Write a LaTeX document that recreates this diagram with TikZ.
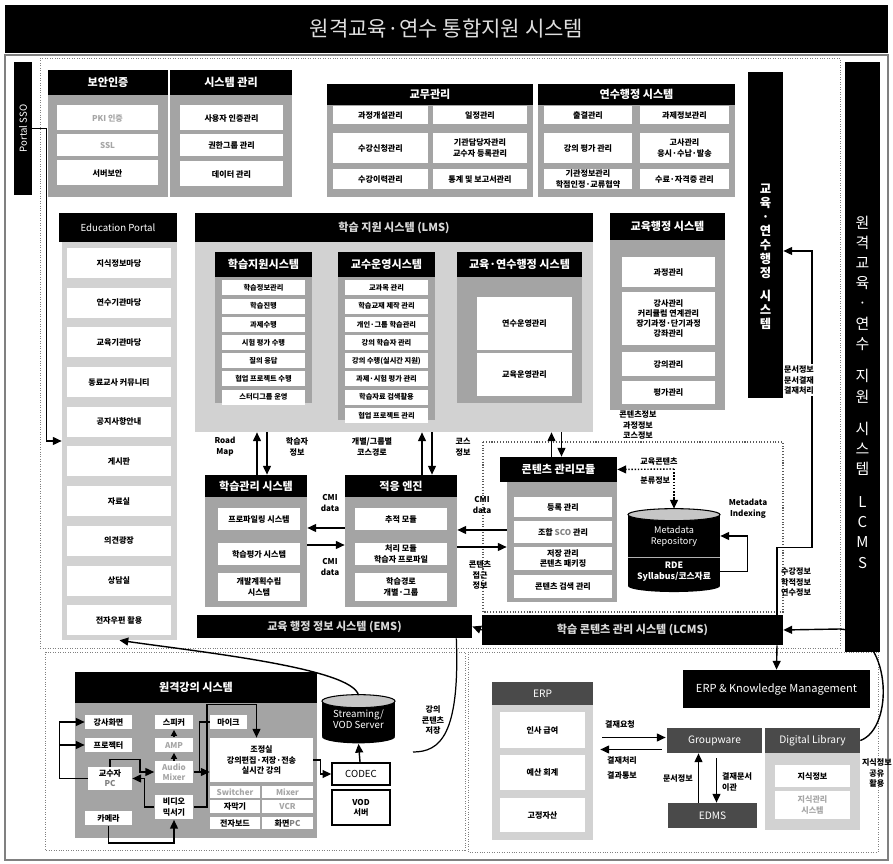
\documentclass[tikz,border=0pt]{standalone}
\usepackage{fontspec}
\usepackage{graphicx}
\setmainfont{Noto Sans CJK KR}
\usepackage{tikz}
\usetikzlibrary{positioning,arrows.meta,calc}
\definecolor{hatch}{HTML}{A4A4A4}
\definecolor{lighthatch}{HTML}{D2D2D2}
\definecolor{darkpanel}{HTML}{4A4A4A}

\begin{document}
\begin{tikzpicture}[x=0.02cm, y=-0.02cm,
  hdr/.style={fill=black, text=white, inner sep=0pt, align=center,
              font=\bfseries\fontsize{6.3}{7.5}\selectfont},
  dhdr/.style={hdr, fill=darkpanel, font=\fontsize{5.8}{6.8}\selectfont},
  body/.style={fill=hatch, inner sep=0pt},
  lbody/.style={fill=lighthatch, inner sep=0pt},
  item/.style={fill=white, inner sep=0pt, align=center,
               font=\bfseries\fontsize{4.6}{5.8}\selectfont},
  sitem/.style={item, minimum width=1.66cm, minimum height=0.3cm,
                font=\bfseries\fontsize{4.1}{5}\selectfont},
  pitem/.style={item, minimum width=2.1cm, minimum height=0.6cm},
  gitem/.style={item, text=gray!70},
  lbl/.style={inner sep=0.5pt, align=center,
              font=\bfseries\fontsize{4.6}{6.2}\selectfont},
  bar/.style={fill=black, text=white, inner sep=0pt, align=center},
  db/.style={fill=black, text=white, inner sep=0pt, align=center,
             font=\fontsize{5.2}{6.2}\selectfont},
  arr/.style={-{Triangle[length=5pt,width=4.5pt]}, line width=0.8pt},
  sarr/.style={-{Triangle[length=3.5pt,width=3.5pt]}, line width=0.7pt}
]
\useasboundingbox (0,0) rectangle (893,864);
\fill[white] (0,0) rectangle (893,864);
\node[bar, minimum width=17.66cm, minimum height=0.96cm, text=gray!25,
      font=\fontsize{12}{14}\selectfont] (title) at (446.5,29) {원격교육·연수 통합지원 시스템};
\draw[gray, line width=0.6pt] (5,55) rectangle (888,860);
\draw[densely dotted, gray] (40,58) rectangle (840,648);
\draw[densely dotted, gray] (45,652) rectangle (465,850);
\draw[densely dotted, gray] (468,652) rectangle (878,852);

\node[bar, minimum width=0.36cm, minimum height=2.66cm,
      font=\fontsize{5.5}{6}\selectfont] (sso) at (23,128.5) {\rotatebox{90}{Portal SSO}};

\node[hdr, minimum width=2.4cm, minimum height=0.5cm] (sechd) at (108,82.5) {보안인증};
\node[body, minimum width=2.4cm, minimum height=2.04cm] (secb) at (108,146) {};
\node[gitem, minimum width=2.02cm, minimum height=0.5cm] (sec1) at (107.5,118) {PKI 인증};
\node[gitem, minimum width=2.02cm, minimum height=0.44cm] (sec2) at (107.5,145) {SSL};
\node[item, minimum width=2.02cm, minimum height=0.5cm] (sec3) at (107.5,173) {서버보안};

\node[hdr, minimum width=2.44cm, minimum height=0.5cm] (syshd) at (231,82.5) {시스템 관리};
\node[body, minimum width=2.44cm, minimum height=2.04cm] (sysb) at (231,146) {};
\node[item, minimum width=2.06cm, minimum height=0.5cm] (sys1) at (231.5,118) {사용자 인증관리};
\node[item, minimum width=2.06cm, minimum height=0.44cm] (sys2) at (231.5,145) {권한그룹 관리};
\node[item, minimum width=2.06cm, minimum height=0.5cm] (sys3) at (231.5,174) {데이터 관리};

\node[hdr, minimum width=4.12cm, minimum height=0.42cm] (gmhd) at (430,94.5) {교무관리};
\node[body, minimum width=4.12cm, minimum height=1.84cm] (gmb) at (430,151) {};
\node[item, minimum width=1.9cm, minimum height=0.36cm] (gm1) at (380.5,115) {과정개설관리};
\node[item, minimum width=1.9cm, minimum height=0.6cm] (gm2) at (380.5,148) {수강신청관리};
\node[item, minimum width=1.9cm, minimum height=0.4cm] (gm3) at (380.5,179) {수강이력관리};
\node[item, minimum width=1.88cm, minimum height=0.36cm] (gm4) at (480,115) {일정관리};
\node[item, minimum width=1.88cm, minimum height=0.6cm] (gm5) at (480,148) {기관담당자관리\\교수자 등록관리};
\node[item, minimum width=1.88cm, minimum height=0.4cm] (gm6) at (480,179) {통계 및 보고서관리};

\node[hdr, minimum width=3.94cm, minimum height=0.42cm] (yshd) at (636.5,94.5) {연수행정 시스템};
\node[body, minimum width=3.94cm, minimum height=1.84cm] (ysb) at (636.5,151) {};
\node[item, minimum width=1.76cm, minimum height=0.36cm] (ys1) at (588,115) {출결관리};
\node[item, minimum width=1.76cm, minimum height=0.6cm] (ys2) at (588,148) {강의 평가 관리};
\node[item, minimum width=1.76cm, minimum height=0.4cm] (ys3) at (588,179) {기관정보관리\\학점인정·교류협약};
\node[item, minimum width=1.78cm, minimum height=0.36cm] (ys4) at (684.5,115) {과제정보관리};
\node[item, minimum width=1.78cm, minimum height=0.6cm] (ys5) at (684.5,148) {고사관리\\응시·수납·발송};
\node[item, minimum width=1.78cm, minimum height=0.4cm] (ys6) at (684.5,179) {수료·자격증 관리};

\node[hdr, minimum width=2.36cm, minimum height=0.58cm,
      font=\fontsize{5.5}{6.5}\selectfont] (pthd) at (118,227.5) {Education Portal};
\node[lbody, minimum width=2.3cm, minimum height=7.96cm] (pbody) at (119.5,441) {};
\node[pitem] (pt1) at (119,263) {지식정보마당};
\node[pitem, below=0.18cm of pt1] (pt2) {연수기관마당};
\node[pitem, below=0.18cm of pt2] (pt3) {교육기관마당};
\node[pitem, below=0.18cm of pt3] (pt4) {동료교사 커뮤니티};
\node[pitem, below=0.18cm of pt4] (pt5) {공지사항안내};
\node[pitem, below=0.18cm of pt5] (pt6) {게시판};
\node[pitem, below=0.18cm of pt6] (pt7) {자료실};
\node[pitem, below=0.18cm of pt7] (pt8) {의견광장};
\node[pitem, below=0.18cm of pt8] (pt9) {상담실};
\node[pitem, below=0.18cm of pt9] (pt10) {전자우편 활용};
\draw[arr] (sso.east) -- ++(14,0) |- (pbody.west);

\node[hdr, minimum width=7.96cm, minimum height=0.58cm, text=gray!30] (lmshd) at (394,227.5) {학습 지원 시스템 (LMS)};
\node[lbody, minimum width=7.96cm, minimum height=3.8cm] (lmsb) at (394,337) {};
\node[hdr, minimum width=1.94cm, minimum height=0.5cm] (sphd) at (263.5,264.5) {학습지원시스템};
\node[body, minimum width=1.94cm, minimum height=2.52cm] (spb) at (263.5,340) {};
\node[sitem] (sp1) at (263.5,288) {학습정보관리};
\node[sitem, below=0.05cm of sp1] (sp2) {학습진행};
\node[sitem, below=0.05cm of sp2] (sp3) {과제수행};
\node[sitem, below=0.05cm of sp3] (sp4) {시험 평가 수행};
\node[sitem, below=0.05cm of sp4] (sp5) {질의 응답};
\node[sitem, below=0.05cm of sp5] (sp6) {협업 프로젝트 수행};
\node[sitem, below=0.05cm of sp6] (sp7) {스터디그룹 운영};
\node[hdr, minimum width=1.94cm, minimum height=0.5cm] (tphd) at (386.5,264.5) {교수운영시스템};
\node[body, minimum width=1.94cm, minimum height=2.86cm] (tpb) at (386.5,348.5) {};
\node[sitem] (tp1) at (386.5,288) {교과목 관리};
\node[sitem, below=0.05cm of tp1] (tp2) {학습교재 제작 관리};
\node[sitem, below=0.05cm of tp2] (tp3) {개인·그룹 학습관리};
\node[sitem, below=0.05cm of tp3] (tp4) {강의 학습자 관리};
\node[sitem, below=0.05cm of tp4] (tp5) {강의 수행(실시간 지원)};
\node[sitem, below=0.05cm of tp5] (tp6) {과제·시험 평가 관리};
\node[sitem, below=0.05cm of tp6] (tp7) {학습자료 검색활용};
\node[sitem, below=0.05cm of tp7] (tp8) {협업 프로젝트 관리};
\node[hdr, minimum width=2.5cm, minimum height=0.5cm] (ebhd) at (519.5,264.5) {교육·연수행정 시스템};
\node[body, minimum width=2.5cm, minimum height=2.52cm] (ebb) at (519.5,340) {};
\node[item, minimum width=1.9cm, minimum height=1.06cm] (eb1) at (524.5,323.5) {연수운영관리};
\node[item, minimum width=1.9cm, minimum height=0.86cm] (eb2) at (524.5,374.5) {교육운영관리};

\node[hdr, minimum width=2.3cm, minimum height=0.54cm] (edhd) at (667.5,226.5) {교육행정 시스템};
\node[body, minimum width=2.3cm, minimum height=3.4cm] (edb) at (667.5,325) {};
\node[item, minimum width=1.86cm, minimum height=0.6cm] (ed1) at (668.5,272) {과정관리};
\node[item, minimum width=1.86cm, minimum height=1.06cm] (ed2) at (668.5,318.5) {강사관리\\커리큘럼 연계관리\\장기과정·단기과정\\강좌관리};
\node[item, minimum width=1.86cm, minimum height=0.48cm] (ed3) at (668.5,364) {강의관리};
\node[item, minimum width=1.86cm, minimum height=0.46cm] (ed4) at (668.5,392.5) {평가관리};

\node[bar, minimum width=0.7cm, minimum height=6.52cm] (eabar) at (765.5,235) {};
\node[bar, fill=none, font=\bfseries\fontsize{7}{8}\selectfont] (eatxt) at ([yshift=-0.44cm]eabar.center)
  {교\\육\\·\\연\\수\\행\\정\\[5pt]시\\스\\템};
\node[bar, minimum width=0.7cm, minimum height=11.8cm] (rbar) at (862.5,357) {};
\node[bar, fill=none, font=\fontsize{8.5}{11.5}\selectfont] (rtxt) at ([yshift=-0.7cm]rbar.center)
  {원\\격\\교\\육\\·\\연\\수\\[7pt]지\\원\\[7pt]시\\스\\템\\[7pt]L\\C\\M\\S};

\node[lbl] (rdmap) at (225,447) {Road\\Map};
\node[lbl] (lrnr) at (297,447) {학습자\\정보};
\node[lbl] (cpath) at (372,447) {개별/그룹별\\코스경로};
\node[lbl] (cinfo) at (463,447) {코스\\정보};

\node[hdr, minimum width=2.04cm, minimum height=0.44cm] (lmhd) at (256,486) {학습관리 시스템};
\node[body, minimum width=2.04cm, minimum height=2.2cm] (lmb) at (256,552) {};
\node[item, minimum width=1.64cm, minimum height=0.44cm] (lm1) at (259,519) {프로파일링 시스템};
\node[item, minimum width=1.64cm, minimum height=0.44cm] (lm2) at (259,554) {학습평가 시스템};
\node[item, minimum width=1.64cm, minimum height=0.56cm] (lm3) at (259,587) {개발계획수립\\시스템};
\node[hdr, minimum width=2.24cm, minimum height=0.44cm] (adhd) at (401,486) {적응 엔진};
\node[body, minimum width=2.24cm, minimum height=2.2cm] (adb) at (401,552) {};
\node[item, minimum width=1.84cm, minimum height=0.44cm] (ad1) at (401,519) {추적 모듈};
\node[item, minimum width=1.84cm, minimum height=0.44cm] (ad2) at (401,554) {처리 모듈\\학습자 프로파일};
\node[item, minimum width=1.84cm, minimum height=0.56cm] (ad3) at (401,587) {학습경로\\개별·그룹};

\draw[arr] ($(lmhd.north)+(1,0)$) -- ($(lmhd.north |- lmsb.south)+(1,0)$);
\draw[arr] ($(lmhd.north |- lmsb.south)+(11,0)$) -- ($(lmhd.north)+(11,0)$);
\draw[arr] ($(adhd.north)+(21,0)$) -- ($(adhd.north |- lmsb.south)+(21,0)$);
\draw[arr] ($(adhd.north |- lmsb.south)+(31,0)$) -- ($(adhd.north)+(31,0)$);
\draw[arr] ($(adb.west)+(0,-24)$) -- ($(lmb.east |- adb.west)+(0,-24)$);
\draw[arr] ($(lmb.east |- adb.west)+(0,-7)$) -- ($(adb.west)+(0,-7)$);
\node[lbl] (cmi1) at (330,503) {CMI\\data};
\node[lbl] (cmi2) at (330,567) {CMI\\data};

\draw[densely dotted, gray!70!black, line width=0.6pt] (483,442) rectangle (783,612);
\node[hdr, minimum width=2.34cm, minimum height=0.5cm] (cmhd) at (558.5,469.5) {콘텐츠 관리모듈};
\node[body, minimum width=2.2cm, minimum height=2.4cm] (cmb) at (562,542) {};
\node[item, minimum width=1.96cm, minimum height=0.4cm] (cm1) at (563,507) {등록 관리};
\node[item, minimum width=1.96cm, minimum height=0.44cm] (cm2) at (563,532) {조합 \textcolor{gray}{SCO} 관리};
\node[item, minimum width=1.96cm, minimum height=0.46cm] (cm3) at (563,558.5) {저장 관리\\콘텐츠 패키징};
\node[item, minimum width=1.96cm, minimum height=0.46cm] (cm4) at (563,586.5) {콘텐츠 검색 관리};
\draw[arr] ($(cmhd.north)+(-7,0)$) -- ($(cmhd.north |- lmsb.south)+(-7,0)$);
\draw[arr] ($(cmhd.north |- lmsb.south)+(3,0)$) -- ($(cmhd.north)+(3,0)$);
\draw[arr] ($(cmb.west)+(0,-12)$) -- ($(adb.east |- cmb.west)+(0,-12)$);
\draw[arr] ($(adb.east |- cmb.west)+(0,5)$) -- ($(cmb.west)+(0,5)$);
\node[lbl] (cmi3) at (482,505) {CMI\\data};
\node[lbl] (cacc) at (480,575) {콘텐츠\\접근\\정보};
\node[lbl] (ctinfo) at (638,425) {콘텐츠정보\\과정정보\\코스정보};

\node[db, minimum width=1.84cm, minimum height=0.84cm] (repo) at (674,536) {Metadata\\Repository};
\filldraw[fill=gray!45, draw=black, line width=0.6pt] (repo.north) ellipse [x radius=0.92cm, y radius=0.12cm];
\node[db, minimum width=1.84cm, minimum height=0.56cm, below=0pt of repo,
      font=\bfseries\fontsize{5}{6}\selectfont] (rde) {RDE\\Syllabus/코스자료};
\fill (rde.south) ellipse [x radius=0.92cm, y radius=0.12cm];
\draw[gray!60, line width=0.8pt] (repo.south west) -- (repo.south east);
\coordinate (cls) at (674,469);
\draw[densely dotted, line width=0.8pt, -{Triangle[length=5pt,width=4.5pt]}] (cls) -- (cmhd.east);
\draw[densely dotted, line width=0.8pt] (cls) -- ($(repo.north)+(0,-18)$);
\draw[arr] ($(repo.north)+(0,-18)$) -- ($(repo.north)+(0,-6)$);
\node[lbl, align=left] (clsinfo) at (659,471) {교육콘텐츠\\[5pt]분류정보};
\draw[arr] (rde.east) -- ++(27,0) |- (repo.east);
\node[lbl] (mdidx) at (748,509) {Metadata\\Indexing};

\node[bar, minimum width=6.02cm, minimum height=0.6cm, text=gray!30,
      font=\bfseries\fontsize{6.3}{7}\selectfont] (lcms) at (632.5,630) {학습 콘텐츠 관리 시스템 (LCMS)};
\node[bar, minimum width=5.5cm, minimum height=0.46cm, text=gray!30,
      font=\bfseries\fontsize{6.3}{7}\selectfont] (ems) at (334.5,626.5) {교육 행정 정보 시스템 (EMS)};
\draw[arr] (lcms.west) -- (ems.east);
\draw[arr] ($(lcms.north)+(144.5,0)$) -- ++(0,-67) -- ++(35,0) |- ($(eabar.east)+(0,16)$);
\node[lbl, fill=white] (docinfo) at (799,380) {문서정보\\문서결재\\결재처리};
\node[lbl, anchor=west, align=left] (stinfo) at (780,582) {수강정보\\학적정보\\연수정보};

\node[hdr, minimum width=4.84cm, minimum height=0.62cm] (rmhd) at (196,687.5) {원격강의 시스템};
\node[body, minimum width=4.84cm, minimum height=2.7cm] (rmb) at (196,770.5) {};
\node[item, minimum width=0.94cm, minimum height=0.3cm] (ksc) at (108.5,722) {강사화면};
\node[item, minimum width=0.94cm, minimum height=0.3cm] (proj) at (108.5,745) {프로젝터};
\node[item, minimum width=0.88cm, minimum height=0.46cm] (pc) at (110,778.5) {교수자\\\textcolor{gray}{PC}};
\node[item, minimum width=0.94cm, minimum height=0.3cm] (cam) at (108.5,818) {카메라};
\node[item, minimum width=0.78cm, minimum height=0.3cm] (spk) at (174,722) {스피커};
\node[gitem, minimum width=0.78cm, minimum height=0.3cm] (amp) at (174,745) {AMP};
\node[gitem, minimum width=0.78cm, minimum height=0.44cm] (amix) at (174,772) {Audio\\Mixer};
\node[item, minimum width=0.78cm, minimum height=0.5cm] (vmix) at (174,807) {비디오\\믹서기};
\node[item, minimum width=0.74cm, minimum height=0.3cm] (mic) at (228.5,722) {마이크};
\node[item, minimum width=2.06cm, minimum height=0.88cm] (ctrl) at (261.5,760) {조정실\\강의편집·저장·전송\\실시간 강의};
\node[gitem, minimum width=1.0cm, minimum height=0.26cm] (sw) at (235,792) {Switcher};
\node[gitem, minimum width=1.02cm, minimum height=0.26cm] (mx) at (287.5,792) {Mixer};
\node[item, minimum width=1.0cm, minimum height=0.26cm] (cap) at (235,806.5) {자막기};
\node[gitem, minimum width=1.02cm, minimum height=0.26cm] (vcr) at (287.5,806.5) {VCR};
\node[item, minimum width=1.0cm, minimum height=0.26cm] (ebd) at (235,823) {전자보드};
\node[item, minimum width=1.02cm, minimum height=0.26cm] (spc) at (287.5,823) {화면\textcolor{gray}{PC}};
\node[item, draw, line width=0.8pt, minimum width=1.16cm, minimum height=0.44cm,
      font=\fontsize{5.5}{6}\selectfont] (codec) at (361,774) {CODEC};
\node[item, draw, line width=0.8pt, minimum width=1.16cm, minimum height=0.7cm] (vod) at (361,807.5) {VOD\\서버};
\node[db, minimum width=1.46cm, minimum height=0.7cm,
      font=\fontsize{5.5}{6.5}\selectfont] (strm) at (358.5,719) {Streaming/\\VOD Server};
\filldraw[fill=gray!45, draw=black, line width=0.6pt] (strm.north) ellipse [x radius=0.73cm, y radius=0.13cm];
\fill (strm.south) ellipse [x radius=0.73cm, y radius=0.13cm];

\draw[arr] (pc.west) -- ++(-28,0) |- (ksc.west);
\draw[arr] ($(pc.west)+(-28,0)$) |- (proj.west);
\draw[sarr] (amp) -- (spk);
\draw[sarr] (amix) -- (amp);
\draw[arr] (pc.north) -- ++(0,-7) -| ($(amix.west)+(-14,0)$) -- (amix.west);
\draw[arr] (vmix.west) -| ($(pc.east)+(12,0)$) -- (pc.east);
\draw[line width=0.8pt] (mic.west) -- ++(-10,0) |- ($(amix.east)+(7,0)$);
\draw[arr] (amix.east) -- (amix.east -| ctrl.west);
\draw[arr] (vmix.east) -- ++(13,0) |- ($(ctrl.north)+(-5,-33)$) -- ($(ctrl.north)+(-5,0)$);
\draw[arr] (cam.south) -- ++(0,17) -| (vmix.south);
\draw[arr] (ctrl.east) -- ++(7,0) |- (codec.west);
\draw[arr] (codec) -- ($(strm.south)+(0,7)$);
\draw[arr] ($(strm.north)+(0,-6)$) .. controls (352,668) and (200,652) .. (pbody.south);
\coordinate (cst) at (413,752);
\draw[line width=0.7pt] ($(ems.south east)+(-16,0)$) .. controls (460,735) and (440,752) .. (cst);
\node[lbl] (store) at (433,720) {강의\\콘텐츠\\저장};

\node[bar, minimum width=3.74cm, minimum height=0.76cm,
      font=\fontsize{6.3}{7}\selectfont] (erpkm) at (776.5,689) {ERP \& Knowledge Management};
\draw[arr] ($(lcms.south)+(144.5,0)$) -- (erpkm.north);
\node[dhdr, minimum width=2.02cm, minimum height=0.46cm] (erphd) at (542.5,693.5) {ERP};
\node[lbody, minimum width=2.02cm, minimum height=2.7cm] (erpb) at (542.5,772.5) {};
\node[item, minimum width=1.7cm, minimum height=0.72cm] (erp1) at (542.5,730) {인사 급여};
\node[item, minimum width=1.7cm, minimum height=0.7cm] (erp2) at (542.5,772.5) {예산 회계};
\node[item, minimum width=1.7cm, minimum height=0.68cm] (erp3) at (542.5,815) {고정자산};
\node[dhdr, minimum width=1.9cm, minimum height=0.5cm] (gw) at (714.5,740.5) {Groupware};
\node[dhdr, minimum width=1.9cm, minimum height=0.5cm] (dl) at (812.5,740.5) {Digital Library};
\node[lbody, minimum width=1.9cm, minimum height=1.54cm] (dlb) at (812.5,791.5) {};
\node[item, minimum width=1.5cm, minimum height=0.44cm] (dl1) at (812.5,776) {지식정보};
\node[gitem, minimum width=1.5cm, minimum height=0.56cm] (dl2) at (812.5,805) {지식관리\\시스템};
\node[dhdr, minimum width=1.78cm, minimum height=0.5cm] (edms) at (712.5,815.5) {EDMS};
\draw[arr] ($(gw.west -| erpb.east)+(9,-3)$) -- ($(gw.west)+(-1,-3)$);
\draw[arr] ($(gw.west)+(-5,9)$) -- ($(gw.west -| erpb.east)+(7,9)$);
\node[lbl] (req) at (620,724) {결재요청};
\node[lbl] (res) at (622,768) {결재처리\\[2pt]결과통보};
\draw[arr] ($(edms.north)+(-14,0)$) -- ($(edms.north |- gw.south)+(-14,0)$);
\draw[arr] ($(edms.north |- gw.south)+(4,5)$) -- ($(edms.north)+(4,0)$);
\node[lbl, anchor=east] (dinfo) at (694,778) {문서정보};
\node[lbl, anchor=west, align=left] (dmove) at (721,782) {결재문서\\이관};
\draw[arr] (dl.east) .. controls (895,728) and (892,632) .. (840,629) -- (lcms.east);
\node[lbl, anchor=east] (kshare) at (893,773) {지식정보\\공유\\활용};
\end{tikzpicture}
\end{document}
